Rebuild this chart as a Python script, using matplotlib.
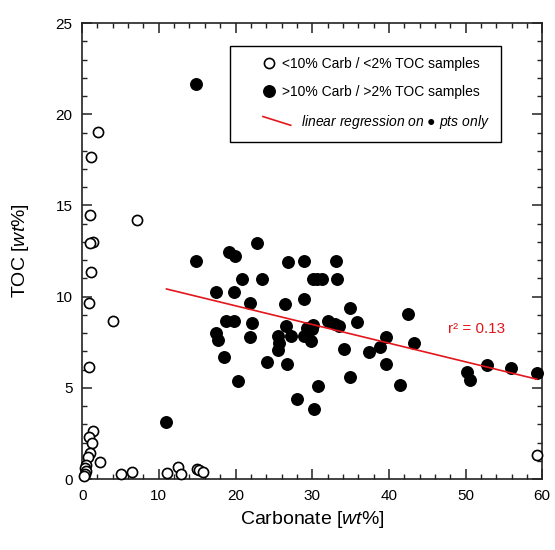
import numpy as np
import matplotlib
matplotlib.use("Agg")
import matplotlib.pyplot as plt
from matplotlib.legend_handler import HandlerLine2D
from matplotlib.lines import Line2D
from matplotlib.ticker import MultipleLocator

plt.rcParams['font.family'] = ['Liberation Sans', 'DejaVu Sans']
plt.rcParams['mathtext.fontset'] = 'custom'
plt.rcParams['mathtext.rm'] = 'Liberation Sans'
plt.rcParams['mathtext.it'] = 'Liberation Sans:italic'

# <10% Carb / <2% TOC samples (open circles)
low_carb = [2.09, 1.22, 1.0, 7.2, 1.43, 1.0, 1.22, 0.87, 4.04, 0.87,
            1.39, 0.85, 1.3, 0.96, 0.75, 2.35, 0.45, 0.35, 0.52, 0.4,
            0.3, 5.06, 6.55, 11.04, 12.52, 12.92, 15.0, 15.2, 15.8, 59.3]
low_toc = [19.04, 17.65, 14.47, 14.2, 13.0, 12.92, 11.33, 9.65, 8.68, 6.14,
           2.63, 2.28, 2.0, 1.45, 1.2, 0.94, 0.75, 0.59, 0.42, 0.28,
           0.15, 0.26, 0.38, 0.33, 0.67, 0.25, 0.57, 0.5, 0.38, 1.3]

# >10% Carb / >2% TOC samples (filled circles)
carb = [14.9, 11.0, 14.9, 22.74, 19.21, 19.96, 26.91, 20.91, 23.39, 17.44,
        19.74, 21.91, 26.39, 18.74, 19.74, 22.09, 26.61, 17.44, 17.78, 21.91,
        25.56, 27.3, 25.73, 25.56, 18.56, 24.09, 26.78, 20.39, 28.0, 28.91,
        33.13, 30.17, 30.65, 31.3, 33.3, 28.91, 34.91, 35.78, 32.04, 32.91,
        33.52, 30.1, 29.3, 29.95, 28.96, 29.78, 34.09, 39.6, 38.78, 37.43,
        39.6, 34.96, 30.78, 30.26, 41.48, 42.43, 43.26, 50.13, 50.6, 52.78,
        55.99, 59.3]
toc = [21.65, 3.13, 11.97, 12.96, 12.46, 12.24, 11.9, 10.96, 10.96, 10.23,
       10.23, 9.65, 9.58, 8.68, 8.68, 8.53, 8.39, 7.99, 7.62, 7.77,
       7.82, 7.82, 7.47, 7.05, 6.7, 6.41, 6.29, 5.37, 4.37, 11.97,
       11.97, 10.98, 10.98, 10.98, 10.96, 9.85, 9.36, 8.61, 8.68, 8.51,
       8.39, 8.46, 8.26, 8.22, 7.84, 7.55, 7.13, 7.78, 7.25, 6.96,
       6.29, 5.58, 5.1, 3.82, 5.15, 9.03, 7.47, 5.85, 5.43, 6.27,
       6.09, 5.8]

# regression on the filled points only
slope, icpt = np.polyfit(carb, toc, 1)
reg_x = np.array([min(carb), max(carb)])
reg_y = slope * reg_x + icpt


class MarkerHandler(HandlerLine2D):
    # marker sits near the right end of the handle box
    def create_artists(self, legend, orig_handle, xdescent, ydescent,
                       width, height, fontsize, trans):
        m = Line2D([width - 0.5 * fontsize], [height / 2 - ydescent])
        self.update_prop(m, orig_handle, legend)
        m.set_linestyle('none')
        m.set_transform(trans)
        return [m]


class SlopedHandler(HandlerLine2D):
    # short red line going down to the right
    def create_artists(self, legend, orig_handle, xdescent, ydescent,
                       width, height, fontsize, trans):
        ln = Line2D([width - 0.95 * fontsize, width + 1.05 * fontsize],
                    [height * 0.95, height * 0.05 - ydescent])
        self.update_prop(ln, orig_handle, legend)
        ln.set_marker('')
        ln.set_transform(trans)
        return [ln]


fig, ax = plt.subplots(figsize=(5.55, 5.5), dpi=100)
fig.subplots_adjust(left=0.148, right=0.977, top=0.958, bottom=0.129)

h_open = ax.plot(low_carb, low_toc, 'o', ms=7.3, mfc='white', mec='black',
                 mew=1.2, ls='none', clip_on=False, zorder=3)[0]
h_fill = ax.plot(carb, toc, 'o', ms=8.3, mfc='black', mec='black',
                 ls='none', clip_on=False, zorder=4)[0]
h_reg = ax.plot(reg_x, reg_y, color='#e3161c', lw=1.2, zorder=5)[0]

ax.text(51.4, 8.2, 'r² = 0.13', color='#e3161c', fontsize=11,
        ha='center', va='center')

ax.set_xlim(0, 60)
ax.set_ylim(0, 25)
ax.xaxis.set_major_locator(MultipleLocator(10))
ax.xaxis.set_minor_locator(MultipleLocator(2))
ax.yaxis.set_major_locator(MultipleLocator(5))
ax.yaxis.set_minor_locator(MultipleLocator(1))
ax.tick_params(which='both', direction='in', top=True, right=True,
               labelsize=11, pad=7, color='#222222')
ax.tick_params(which='major', length=7, width=1.1)
ax.tick_params(which='minor', length=3.5, width=1.0)
for sp in ax.spines.values():
    sp.set_linewidth(1.2)
    sp.set_color('#222222')

ax.set_xlabel('Carbonate [$\\mathit{wt}$%]', fontsize=14)
ax.set_ylabel('TOC [$\\mathit{wt}$%]', fontsize=14)
ax.xaxis.set_label_coords(0.5, -0.065)
ax.yaxis.set_label_coords(-0.112, 0.5)

leg = ax.legend([h_open, h_fill, h_reg],
                ['<10% Carb / <2% TOC samples',
                 '>10% Carb / >2% TOC samples',
                 '     $\\mathit{linear\\ regression\\ on}$ ● $\\mathit{pts\\ only}$'],
                handler_map={h_open: MarkerHandler(), h_fill: MarkerHandler(),
                             h_reg: SlopedHandler()},
                loc='upper left', bbox_to_anchor=(0.322, 0.95),
                borderaxespad=0, fontsize=10, handlelength=2.5,
                handletextpad=0.45, labelspacing=1.0, borderpad=0.8,
                fancybox=False, framealpha=1, edgecolor='black')
leg.get_frame().set_linewidth(1.0)

fig.savefig('out.png', dpi=100)
